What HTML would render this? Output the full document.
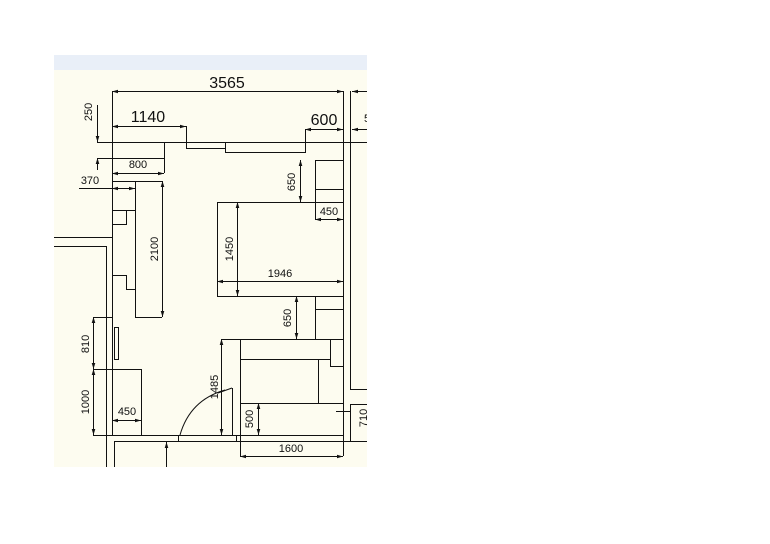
<!DOCTYPE html>
<html><head><meta charset="utf-8"><style>
html,body{margin:0;padding:0;background:#fff;width:770px;height:544px;overflow:hidden}
svg{position:absolute;left:0;top:0}
text{font-family:"Liberation Sans",sans-serif;fill:#111}
</style></head><body>
<svg width="770" height="544" viewBox="0 0 770 544">
<defs>
<marker id="a" viewBox="0 0 10 10" refX="10" refY="5" markerWidth="7" markerHeight="6" orient="auto-start-reverse"><path d="M0,2 L10,5 L0,8 z" fill="#111"/></marker>
<clipPath id="c"><rect x="54" y="55" width="313" height="412"/></clipPath>
</defs>
<rect x="54" y="55" width="313" height="412" fill="#fdfcf0"/>
<rect x="54" y="55" width="313" height="15" fill="#e9eff8"/>
<g stroke="#111" stroke-width="1" fill="none">
<path d="M112.5 91V435.5M343.5 91V456M350.5 91V389.5H367M350.5 442V404.5H367"/>
<path d="M97 142.5H367M186.5 126V148.5H225.5V152.5H305.5V129M225.5 142V152"/>
<path d="M97 158.5H164.5V142M164.5 158V173"/>
<path d="M79 188.5H112M112 181.5H162M135.5 181V317.5H162M112 210.5H135M126.5 210V224.5H112"/>
<path d="M54 237.5H112M54 246.5H106.5V467M112 275.5H126.5V289.5H135"/>
<path d="M217.5 202.5H343M217.5 202V296.5H343M315.5 160.5H343M315.5 160V219M315.5 189.5H343"/>
<path d="M315.5 296V339M315.5 309.5H343M221 339.5H343M240.5 339V456M240 359.5H330.5V366.5H343M330.5 339V359M318.5 359V403M240 403.5H343"/>
<path d="M93 435.5H343M114 441.5H367M114.5 441V467M93 317.5H112M93 369.5H141.5V435"/>
<rect x="114.5" y="327.5" width="4" height="32"/>
<rect x="178.5" y="435.5" width="58" height="6"/>
<path d="M232.5 388V435M232 388L218 393M180 435Q190 400 225 390"/>
<path d="M336 411.5H350"/>
</g>
<g stroke="#111" stroke-width="1" fill="none" marker-start="url(#a)" marker-end="url(#a)">
<path d="M112 91.5H343"/>
<path d="M112 126.5H186"/>
<path d="M305 129.5H343"/>
<path d="M112 173.5H164"/>
<path d="M112 188.5H135"/>
<path d="M162.5 181V317"/>
<path d="M237.5 202V296"/>
<path d="M217 281.5H343"/>
<path d="M300.5 160V202"/>
<path d="M315 219.5H343"/>
<path d="M296.5 296V339"/>
<path d="M221.5 339V435"/>
<path d="M258.5 403V435"/>
<path d="M240 456.5H343"/>
<path d="M93.5 317V369"/>
<path d="M93.5 369V435"/>
<path d="M112 420.5H141"/>
</g>
<g stroke="#111" stroke-width="1" fill="none" marker-end="url(#a)">
<path d="M97.5 105V142"/>
<path d="M97.5 170V158"/>
<path d="M166.5 467V442"/>
<path d="M367 91.5H352"/>
<path d="M367 129.5H352"/>
</g>
<g font-size="16">
<text x="227" y="88" text-anchor="middle">3565</text>
<text x="148" y="122" text-anchor="middle">1140</text>
<text x="324" y="125" text-anchor="middle">600</text>
</g>
<g clip-path="url(#c)"><text x="364" y="122" font-size="11">5</text></g>
<g font-size="11">
<text x="138" y="168" text-anchor="middle">800</text>
<text x="90" y="184" text-anchor="middle">370</text>
<text x="280" y="277" text-anchor="middle">1946</text>
<text x="329" y="215" text-anchor="middle">450</text>
<text x="127" y="415" text-anchor="middle">450</text>
<text x="291" y="452" text-anchor="middle">1600</text>
<text transform="translate(92,112) rotate(-90)" text-anchor="middle">250</text>
<text transform="translate(158,249) rotate(-90)" text-anchor="middle">2100</text>
<text transform="translate(233,249) rotate(-90)" text-anchor="middle">1450</text>
<text transform="translate(295,182) rotate(-90)" text-anchor="middle">650</text>
<text transform="translate(291,318) rotate(-90)" text-anchor="middle">650</text>
<text transform="translate(89,344) rotate(-90)" text-anchor="middle">810</text>
<text transform="translate(89,402) rotate(-90)" text-anchor="middle">1000</text>
<text transform="translate(218,387) rotate(-90)" text-anchor="middle">1485</text>
<text transform="translate(253,419) rotate(-90)" text-anchor="middle">500</text>
<text transform="translate(367,418) rotate(-90)" text-anchor="middle">710</text>
</g>
</svg>
</body></html>
